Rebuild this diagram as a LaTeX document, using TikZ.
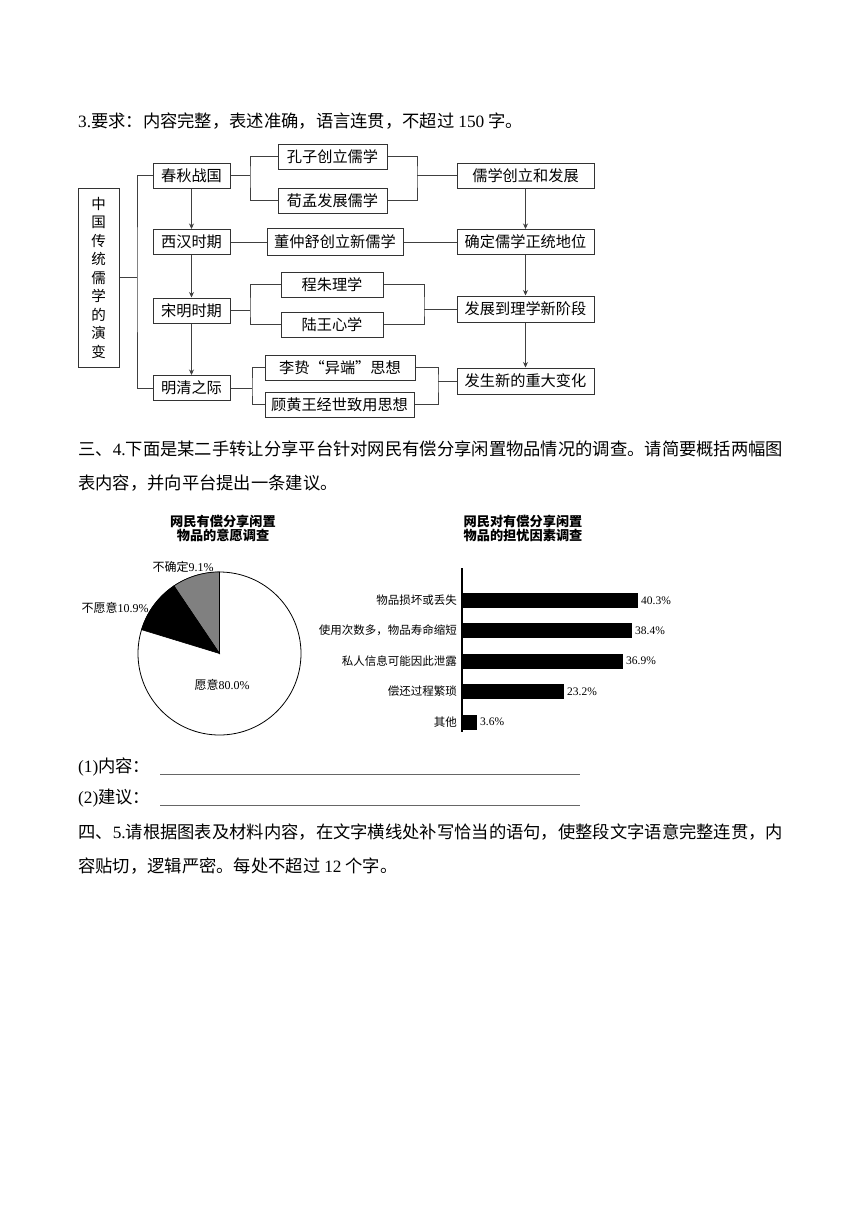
\documentclass[tikz,border=0pt]{standalone}
\usepackage{fontspec}
\setmainfont{Noto Sans CJK SC}
\newfontfamily\lat{Liberation Serif}
\usetikzlibrary{arrows.meta}
\begin{document}
\begin{tikzpicture}[x=1pt,y=-1pt,
  box/.style={draw=black!80, line width=1pt, minimum height=25pt, inner sep=0pt, font=\fontsize{15.2}{16}\selectfont},
  ln/.style={draw=black!75, line width=1pt},
  arr/.style={ln, -{Stealth[length=5.5pt,width=5pt]}},
  body/.style={anchor=west, inner sep=0pt, font=\fontsize{17.3}{20}\selectfont},
  ctitle/.style={inner sep=0pt, align=center, font=\bfseries\fontsize{13.2}{14}\selectfont},
  plab/.style={inner sep=0pt, font=\fontsize{12}{13}\selectfont},
  blab/.style={inner sep=0pt, font=\fontsize{11.5}{12}\selectfont}]
\useasboundingbox (0,0) rectangle (860,1216);
\fill[white] (0,0) rectangle (860,1216);

% ---------- body text ----------
\node[body] (t1) at (78,121) {{\lat 3.}要求：内容完整，表述准确，语言连贯，不超过 {\lat 150} 字。};
\node[body] (t2) at (78,449) {三、{\lat 4.}下面是某二手转让分享平台针对网民有偿分享闲置物品情况的调查。请简要概括两幅图};
\node[body] (t3) at (78,483) {表内容，并向平台提出一条建议。};
\node[body] (q1) at (78,767) {{\lat (1)}内容：};
\node[body] (q2) at (78,798) {{\lat (2)}建议：};
\draw[black!60, line width=0.6pt] (160,774) -- (580,774);
\draw[black!60, line width=0.6pt] (160,805) -- (580,805);
\node[body] (t4) at (78,832) {四、{\lat 5.}请根据图表及材料内容，在文字横线处补写恰当的语句，使整段文字语意完整连贯，内};
\node[body] (t5) at (78,866) {容贴切，逻辑严密。每处不超过 {\lat 12} 个字。};

% ---------- flowchart ----------
\node[box, minimum width=41pt, minimum height=179pt, align=center, font=\fontsize{14.5}{18.5}\selectfont] (root) at (98.5,277.5) {中\\国\\传\\统\\儒\\学\\的\\演\\变};

\node[box, minimum width=77pt] (chun) at (191.5,175.5) {春秋战国};
\node[box, minimum width=77pt] (xihan) at (191.5,242) {西汉时期};
\node[box, minimum width=77pt] (song) at (191.5,310.5) {宋明时期};
\node[box, minimum width=77pt] (mingq) at (191.5,388) {明清之际};

\node[box, minimum width=109pt] (kong) at (332.5,156.5) {孔子创立儒学};
\node[box, minimum width=109pt] (xun) at (332.5,200.5) {荀孟发展儒学};
\node[box, minimum width=136pt, minimum height=27pt] (dong) at (335,242) {董仲舒创立新儒学};
\node[box, minimum width=102pt] (cheng) at (332,284.5) {程朱理学};
\node[box, minimum width=102pt] (lu) at (332,324.5) {陆王心学};
\node[box, minimum width=150pt] (li) at (340,367.5) {李贽“异端”思想};
\node[box, minimum width=149pt] (gu) at (339.5,404.5) {顾黄王经世致用思想};

\node[box, minimum width=137pt] (r1) at (525.5,175.5) {儒学创立和发展};
\node[box, minimum width=137pt] (r2) at (525.5,242) {确定儒学正统地位};
\node[box, minimum width=137pt, minimum height=26pt] (r3) at (525.5,309) {发展到理学新阶段};
\node[box, minimum width=137pt, minimum height=26pt] (r4) at (525.5,381) {发生新的重大变化};

% root bracket
\coordinate (b0) at (137,277.5);
\draw[ln] (root.east) -- (b0);
\draw[ln] (chun.west) -| (b0) |- (mingq.west);

% down arrows
\draw[arr] (chun) -- (xihan);
\draw[arr] (xihan) -- (song);
\draw[arr] (song) -- (mingq);
\draw[arr] (r1) -- (r2);
\draw[arr] (r2) -- (r3);
\draw[arr] (r3) -- (r4);

% chun
\coordinate (bL1) at (250,175.5);
\coordinate (bR1) at (417,175.5);
\draw[ln] (chun.east) -- (bL1);
\draw[ln] (kong.west) -| (bL1) |- (xun.west);
\draw[ln] (kong.east) -| (bR1) |- (xun.east);
\draw[ln] (bR1) -- (r1.west);
% xihan
\draw[ln] (xihan.east) -- (dong.west);
\draw[ln] (dong.east) -- (r2.west);
% song
\coordinate (bL3) at (250,310.5);
\coordinate (bR3) at (424,309);
\draw[ln] (song.east) -- (bL3);
\draw[ln] (cheng.west) -| (bL3) |- (lu.west);
\draw[ln] (cheng.east) -| (bR3) |- (lu.east);
\draw[ln] (bR3) -- (r3.west);
% ming
\coordinate (bL4) at (252,388);
\coordinate (bR4) at (438,381);
\draw[ln] (mingq.east) -- (bL4);
\draw[ln] (li.west) -| (bL4) |- (gu.west);
\draw[ln] (li.east) -| (bR4) |- (gu.east);
\draw[ln] (bR4) -- (r4.west);

% ---------- pie chart ----------
\node[ctitle] (pt) at (223,528.5) {网民有偿分享闲置\\物品的意愿调查};
\begin{scope}[shift={(219.5,653.5)}, yscale=-1]
  \draw[fill=white, line width=0.8pt] (0,0) circle (81.5);
  \filldraw[fill=black!50, draw=black, line width=0.6pt] (0,0) -- (90:81.5) arc[start angle=90, end angle=124, radius=81.5] -- cycle;
  \filldraw[fill=black, draw=black, line width=0.6pt] (0,0) -- (124:81.5) arc[start angle=124, end angle=163, radius=81.5] -- cycle;
\end{scope}
\node[plab] (p1) at (183,567) {不确定{\lat 9.1\%}};
\node[plab] (p2) at (115,608) {不愿意{\lat 10.9\%}};
\node[plab] (p3) at (222,685) {愿意{\lat 80.0\%}};

% ---------- bar chart ----------
\node[ctitle] (bt) at (523,528.5) {网民对有偿分享闲置\\物品的担忧因素调查};
\draw[line width=1.3pt] (462,568) -- (462,732);
\fill (462,593) rectangle (638,608);
\fill (462,623) rectangle (632,638);
\fill (462,653.5) rectangle (623,668.5);
\fill (462,684) rectangle (564,699);
\fill (462,714.5) rectangle (477,729.5);
\node[blab, anchor=east] (c1) at (457,600.5) {物品损坏或丢失};
\node[blab, anchor=east] (c2) at (457,630.5) {使用次数多，物品寿命缩短};
\node[blab, anchor=east] (c3) at (457,661) {私人信息可能因此泄露};
\node[blab, anchor=east] (c4) at (457,691.5) {偿还过程繁琐};
\node[blab, anchor=east] (c5) at (457,722) {其他};
\node[blab, anchor=west] (v1) at (641,600.5) {\lat 40.3\%};
\node[blab, anchor=west] (v2) at (635,630.5) {\lat 38.4\%};
\node[blab, anchor=west] (v3) at (626,661) {\lat 36.9\%};
\node[blab, anchor=west] (v4) at (567,691.5) {\lat 23.2\%};
\node[blab, anchor=west] (v5) at (480,722) {\lat 3.6\%};
\end{tikzpicture}
\end{document}
